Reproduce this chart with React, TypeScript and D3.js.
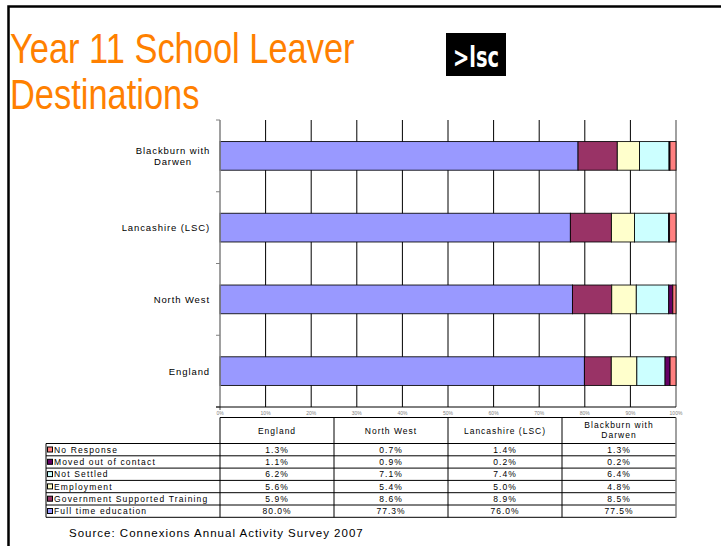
import React from 'react';
import * as d3 from 'd3';

// regions in the order of the data table columns
const REGIONS = ['England', 'North West', 'Lancashire (LSC)', 'Blackburn with Darwen'];

// series in legend order (top row of table first)
const SERIES = [
  'No Response',
  'Moved out of contact',
  'Not Settled',
  'Employment',
  'Government Supported Training',
  'Full time education',
];
const COLORS = ['#FF8080', '#660066', '#CCFFFF', '#FFFFCC', '#993366', '#9999FF'];

// percentages per region (England, North West, Lancashire, Blackburn)
const noResponse = [1.3, 0.7, 1.4, 1.3];
const movedOut = [1.1, 0.9, 0.2, 0.2];
const notSettled = [6.2, 7.1, 7.4, 6.4];
const employment = [5.6, 5.4, 5.0, 4.8];
const govTraining = [5.9, 8.6, 8.9, 8.5];
const fullTime = [80.0, 77.3, 76.0, 77.5];

const SERIES_VALUES = [noResponse, movedOut, notSettled, employment, govTraining, fullTime];

const TITLE_LINES = ['Year 11 School Leaver', 'Destinations'];

const FONT = 'Arial, "Liberation Sans", Helvetica, sans-serif';

const App = () => {
  const W = 721;
  const H = 546;

  const plotLeft = 220;
  const plotRight = 676;
  const plotTop = 120;
  const plotBottom = 407;

  // rows of data for d3.stack
  const rows = REGIONS.map((region, i) => {
    const row: any = { region };
    SERIES.forEach((s, j) => { row[s] = SERIES_VALUES[j][i]; });
    return row;
  });

  // stack: full time education is drawn first (leftmost), 100% stacked
  const stackKeys = [...SERIES].reverse();
  const stacked = d3.stack().keys(stackKeys).offset(d3.stackOffsetExpand)(rows);
  const colorOf = d3.scaleOrdinal<string, string>().domain(SERIES).range(COLORS);

  const x = d3.scaleLinear().domain([0, 1]).range([plotLeft, plotRight]);
  const yOrder = [...REGIONS].reverse();
  const y = d3.scaleBand().domain(yOrder).range([plotTop, plotBottom])
    .paddingInner(0.6).paddingOuter(0.3);
  const step = y.step();
  const xTicks = x.ticks(10);
  const fmt = d3.format('.0%');

  // table geometry
  const col = d3.scaleBand().domain(REGIONS).range([plotLeft, plotRight]);
  const tableLeft = 46;
  const headTop = 417.5;
  const headBottom = 443.5;
  const rowH = 12.3;
  const tableBottom = headBottom + rowH * SERIES.length;

  const labelLines = (name: string) => {
    const k = name.indexOf(' with ');
    return k >= 0 ? [name.slice(0, k + 5), name.slice(k + 6)] : [name];
  };

  return (
    <svg width={W} height={H} style={{ position: 'absolute', left: 0, top: 0, background: '#fff' }}
      fontFamily={FONT}>
      {/* slide frame */}
      <path d={`M${W},6.5 H8.5 V${H}`} fill="none" stroke="#000" strokeWidth={2.5} />

      {/* title */}
      <g transform="translate(10,62.5) scale(0.82,1)">
        <text fontSize={42} fill="#FF8000">
          {TITLE_LINES.map((l, i) => <tspan key={i} x={0} y={i * 47}>{l}</tspan>)}
        </text>
      </g>

      {/* logo */}
      <rect x={446} y={33} width={60} height={43} fill="#000" />
      <text x={453} y={67} fontSize={28} fontWeight="bold" fill="#fff"
        fontFamily='"DejaVu Sans", sans-serif' textLength={46} lengthAdjust="spacingAndGlyphs">&gt;lsc</text>

      {/* gridlines */}
      {xTicks.filter(t => t > 0 && t < 1).map(t => (
        <line key={t} x1={x(t)} x2={x(t)} y1={plotTop} y2={plotBottom} stroke="#000" strokeWidth={1} />
      ))}
      <line x1={x(1)} x2={x(1)} y1={plotTop} y2={plotBottom} stroke="#808080" strokeWidth={1.5} />

      {/* bars */}
      {stacked.map(layer => (
        <g key={layer.key} fill={colorOf(layer.key)}>
          {layer.map((d: any) => (
            <rect key={d.data.region}
              x={x(d[0])} width={x(d[1]) - x(d[0])}
              y={y(d.data.region)} height={y.bandwidth()}
              stroke="#000" strokeWidth={1} strokeOpacity={0.85} />
          ))}
        </g>
      ))}

      {/* y axis */}
      <line x1={plotLeft} x2={plotLeft} y1={plotTop} y2={plotBottom + 3} stroke="#808080" strokeWidth={1.5} />
      {d3.range(yOrder.length + 1).map(i => (
        <line key={i} x1={plotLeft - 4} x2={plotLeft} y1={plotTop + i * step} y2={plotTop + i * step}
          stroke="#808080" strokeWidth={1} />
      ))}
      {yOrder.map(r => {
        const lines = labelLines(r);
        const cy = (y(r) as number) + y.bandwidth() / 2;
        if (lines.length > 1) {
          return (
            <text key={r} fontSize={9.5} letterSpacing={0.9} fill="#000" textAnchor="middle">
              {lines.map((l, i) => (
                <tspan key={i} x={173} y={cy - 2 + i * 11.5}>{l}</tspan>
              ))}
            </text>
          );
        }
        return (
          <text key={r} x={210} y={cy + 3.5} fontSize={9.5} letterSpacing={0.9} fill="#000" textAnchor="end">{r}</text>
        );
      })}

      {/* x axis */}
      <line x1={plotLeft - 4} x2={plotRight} y1={plotBottom} y2={plotBottom} stroke="#000" strokeWidth={1} />
      {xTicks.map(t => (
        <text key={t} x={x(t)} y={414.5} fontSize={5} fill="#808080" textAnchor="middle">{fmt(t)}</text>
      ))}

      {/* data table header */}
      {REGIONS.map(r => {
        const cx = (col(r) as number) + col.bandwidth() / 2;
        const lines = labelLines(r);
        return (
          <text key={r} fontSize={8.5} letterSpacing={1} textAnchor="middle" fill="#000">
            {lines.length > 1
              ? lines.map((l, i) => <tspan key={i} x={cx} y={428 + i * 10}>{l}</tspan>)
              : <tspan x={cx} y={434}>{r}</tspan>}
          </text>
        );
      })}
      <line x1={plotLeft} x2={plotRight} y1={headTop} y2={headTop} stroke="#000" strokeWidth={1} />

      {/* data table rows with legend keys */}
      {SERIES.map((s, j) => {
        const top = headBottom + j * rowH;
        return (
          <g key={s}>
            <rect x={47.5} y={top + 3.5} width={5} height={5} fill={colorOf(s)} stroke="#000" strokeWidth={1} />
            <text x={54} y={top + 9.3} fontSize={8.5} letterSpacing={1.15} fill="#000">{s}</text>
            {REGIONS.map((r, i) => (
              <text key={r} x={(col(r) as number) + col.bandwidth() / 2} y={top + 9.3}
                fontSize={8.5} letterSpacing={1} textAnchor="middle" fill="#000">
                {SERIES_VALUES[j][i].toFixed(1)}%
              </text>
            ))}
          </g>
        );
      })}
      {d3.range(SERIES.length + 1).map(j => (
        <line key={j} x1={tableLeft} x2={plotRight} y1={headBottom + j * rowH} y2={headBottom + j * rowH}
          stroke="#000" strokeWidth={1} />
      ))}
      <line x1={tableLeft} x2={tableLeft} y1={headBottom} y2={tableBottom} stroke="#000" strokeWidth={1} />
      {REGIONS.map(r => (
        <line key={r} x1={col(r)} x2={col(r)} y1={headTop} y2={tableBottom} stroke="#000" strokeWidth={1} />
      ))}
      <line x1={plotRight} x2={plotRight} y1={headTop} y2={tableBottom + 0.5} stroke="#808080" strokeWidth={1.5} />

      {/* source */}
      <text x={69} y={537} fontSize={11.5} letterSpacing={1.0} fill="#000">
        Source: Connexions Annual Activity Survey 2007
      </text>
    </svg>
  );
};

export default App;
